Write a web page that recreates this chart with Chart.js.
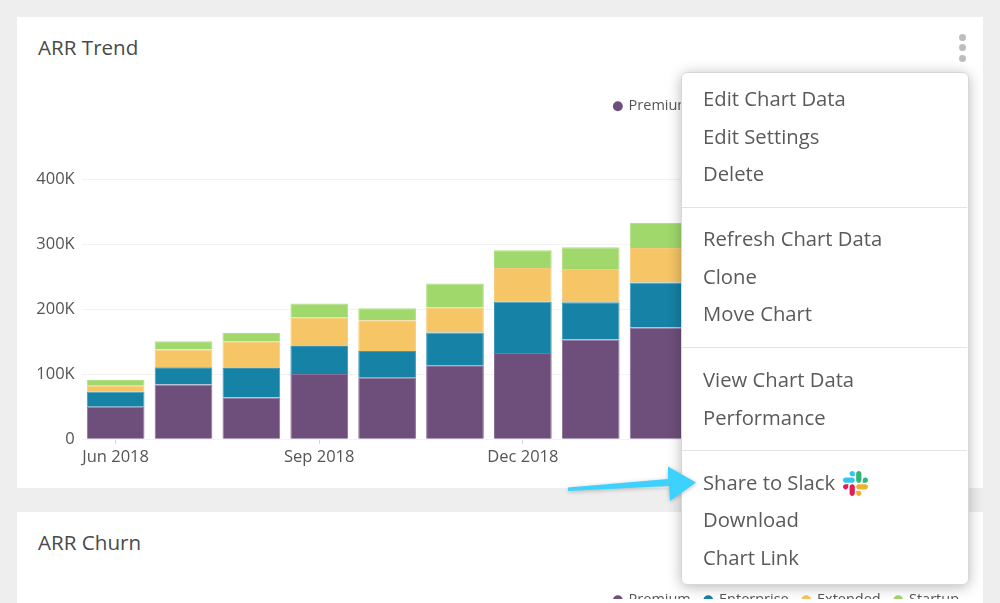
<!DOCTYPE html>
<html><head><meta charset="utf-8">
<script src="https://cdn.jsdelivr.net/npm/chart.js@4"></script>
<style>
html,body{margin:0;padding:0;width:1000px;height:603px;overflow:hidden;background:#eeeeee;font-family:"Open Sans",sans-serif;color:#555}
.card{position:absolute;left:17px;width:966px;background:#fff}
.title{position:absolute;left:38px;font-size:20.6px;line-height:26px;color:#4a4a4a}
.wrap{position:absolute;left:0;width:1000px}
.dot{position:absolute;left:959px;width:7px;height:7px;border-radius:50%;background:#bdbdbd}
#menu{position:absolute;left:680.5px;top:71.5px;width:288px;height:513px;background:#fff;border:1px solid #d8d8d8;box-sizing:border-box;border-radius:6px;box-shadow:0 2px 14px rgba(0,0,0,.28)}
.it{position:absolute;left:703px;font-size:20.25px;line-height:26px;color:#5a5a5a;white-space:nowrap}
.sep{position:absolute;left:682px;width:285px;height:1px;background:#e3e3e3}
svg{position:absolute}
</style></head><body>
<div class="card" style="top:17px;height:471px"></div>
<div class="card" style="top:512px;height:120px"></div>
<div class="title" style="top:34px">ARR Trend</div>
<div class="title" style="top:529px">ARR Churn</div>
<div class="wrap" style="top:81px;height:407px"><canvas id="c1"></canvas></div>
<div class="wrap" style="top:579px;height:40px"><canvas id="c2"></canvas></div>
<div class="dot" style="top:34px"></div><div class="dot" style="top:44px"></div><div class="dot" style="top:55px"></div>
<div id="menu"></div>
<div id="items"></div>
<div class="sep" style="top:207px"></div><div class="sep" style="top:347px"></div><div class="sep" style="top:450px"></div>
<svg style="left:843px;top:471px" width="25" height="25" viewBox="0 0 122.8 122.8">
<path d="M25.8 77.6c0 7.1-5.8 12.9-12.9 12.9S0 84.7 0 77.6s5.8-12.9 12.9-12.9h12.9v12.9zm6.5 0c0-7.1 5.8-12.9 12.9-12.9s12.9 5.8 12.9 12.9v32.3c0 7.1-5.8 12.9-12.9 12.9s-12.9-5.8-12.9-12.9V77.6z" fill="#e01e5a"/>
<path d="M45.2 25.8c-7.1 0-12.9-5.8-12.9-12.9S38.1 0 45.2 0s12.9 5.8 12.9 12.9v12.9H45.2zm0 6.5c7.1 0 12.9 5.8 12.9 12.9s-5.8 12.9-12.9 12.9H12.9C5.8 58.1 0 52.3 0 45.2s5.8-12.9 12.9-12.9h32.3z" fill="#36c5f0"/>
<path d="M97 45.2c0-7.1 5.8-12.9 12.9-12.9s12.9 5.8 12.9 12.9-5.8 12.9-12.9 12.9H97V45.2zm-6.5 0c0 7.1-5.8 12.9-12.9 12.9s-12.9-5.8-12.9-12.9V12.9C64.7 5.8 70.5 0 77.6 0s12.9 5.8 12.9 12.9v32.3z" fill="#2eb67d"/>
<path d="M77.6 97c7.1 0 12.9 5.8 12.9 12.9s-5.8 12.9-12.9 12.9-12.9-5.8-12.9-12.9V97h12.9zm0-6.5c-7.1 0-12.9-5.8-12.9-12.9s5.8-12.9 12.9-12.9h32.3c7.1 0 12.9 5.8 12.9 12.9s-5.8 12.9-12.9 12.9H77.6z" fill="#ecb22e"/>
</svg>
<svg style="left:0;top:0;filter:drop-shadow(0 1px 2px rgba(0,0,0,.25))" width="1000" height="603"><polygon points="568,487.5 668,479 668,466.5 696,482.5 670,501 669,486 568,491" fill="#3cd2fd"/></svg>
<script>
// Months; the last four bars sit entirely behind the open menu, so their values are not readable.
const categories = ["Jun 2018","Jul 2018","Aug 2018","Sep 2018","Oct 2018","Nov 2018","Dec 2018","Jan 2019","Feb 2019","Mar 2019","Apr 2019","May 2019","Jun 2019"];
const premium    = [50000,84400,64400,100400,94700,113800,132800,153400,172000,null,null,null,null];
const enterprise = [23600,26600,45200,43200,41200,50400,79200,57600,69400,null,null,null,null];
const extended   = [8800,27000,41400,44400,47400,39100,51600,51000,53100,null,null,null,null];
const startup    = [8600,13000,12700,21000,18500,36700,27300,33500,38500,null,null,null,null];
const seriesNames = ["Premium","Enterprise","Extended","Startup"];
const yTicks = [0,100000,200000,300000,400000];
const menuItems = [["Edit Chart Data",85],["Edit Settings",123],["Delete",160],["Refresh Chart Data",225],["Clone",263],["Move Chart",300],["View Chart Data",366],["Performance",404],["Share to Slack",469],["Download",506],["Chart Link",544]];

const fills = ["#6e4f7b","#1682a6","#f5c566","#a0d86b"];
const edges = ["#8a6f96","#3f97b5","#f6cc7c","#afdf81"];
const font = {family:'"Open Sans",sans-serif',size:16.5};
const legendLabels = {usePointStyle:true,pointStyle:'circle',boxWidth:7,boxHeight:7,padding:14,color:'#555',font:{family:'"Open Sans",sans-serif',size:14.5},
  generateLabels(chart){return Chart.defaults.plugins.legend.labels.generateLabels(chart).map((l,i)=>({...l,strokeStyle:fills[i],lineWidth:0}));}};

document.getElementById('items').innerHTML = menuItems.map(m=>`<div class="it" style="top:${m[1]}px">${m[0]}</div>`).join('');

const legendTopSpace = {id:'legendSpace',beforeInit(chart){const f=chart.legend.fit;chart.legend.fit=function(){f.call(this);this.height+=56;};}};

new Chart(document.getElementById('c1'),{
  type:'bar',
  plugins:[legendTopSpace],
  data:{labels:categories,datasets:[premium,enterprise,extended,startup].map((d,i)=>({
    label:seriesNames[i],data:d,backgroundColor:fills[i],borderColor:edges[i],borderWidth:1,
    barPercentage:0.85,categoryPercentage:1,stack:'a'}))},
  options:{
    responsive:true,maintainAspectRatio:false,animation:false,
    layout:{padding:{left:0,right:27,top:4,bottom:18}},
    plugins:{legend:{position:'top',align:'end',labels:legendLabels},tooltip:{enabled:false}},
    scales:{
      x:{stacked:true,border:{display:false},
        afterFit(s){s.paddingRight=0;s.paddingLeft=0;},
        grid:{drawOnChartArea:false,offset:false,tickLength:5,tickColor:c=>c.index%3===0?'#d8d8d8':'rgba(0,0,0,0)'},
        ticks:{autoSkip:false,maxRotation:0,color:'#555',font,padding:3,callback(v,i){return i%3===0?categories[i]:'';}}},
      y:{stacked:true,min:0,max:400000,border:{display:false},
        afterFit(s){s.width=81.7;},
        afterBuildTicks(s){s.ticks=yTicks.map(v=>({value:v}));},
        grid:{color:'#f3f3f3',drawTicks:false},
        ticks:{color:'#555',font,padding:7,callback(v){return v===0?'0':(v/1000)+'K';}}},
      gutter:{position:'right',min:0,max:1,border:{display:false},grid:{display:false},ticks:{display:false},
        afterFit(s){s.width=9;}}
    }
  }
});

new Chart(document.getElementById('c2'),{
  type:'bar',
  data:{labels:[],datasets:seriesNames.map((n,i)=>({label:n,data:[],backgroundColor:fills[i],borderColor:fills[i]}))},
  options:{responsive:true,maintainAspectRatio:false,animation:false,
    layout:{padding:{right:27}},
    plugins:{legend:{position:'top',align:'end',labels:legendLabels},tooltip:{enabled:false}},
    scales:{x:{display:false},y:{display:false}}}
});
</script>
</body></html>
